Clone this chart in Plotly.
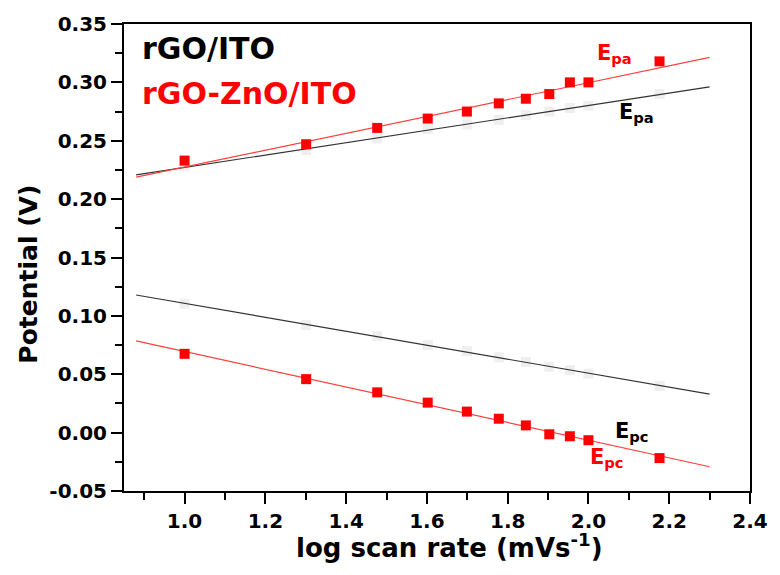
import numpy as np
import plotly.graph_objects as go

# log10 of scan rates 10,20,30,40,50,60,70,80,90,100,150 mV/s
log_rate = [1.000, 1.301, 1.477, 1.602, 1.699, 1.778, 1.845, 1.903, 1.954, 2.000, 2.176]

# rGO-ZnO/ITO peak potentials (V)
zno_epa = [0.233, 0.247, 0.261, 0.269, 0.275, 0.282, 0.286, 0.290, 0.300, 0.300, 0.318]
zno_epc = [0.0675, 0.0458, 0.0345, 0.0257, 0.0180, 0.0119, 0.0062, -0.0014, -0.0031, -0.0065, -0.0218]

# rGO/ITO peak potentials (V)
rgo_epa = [0.228, 0.242, 0.252, 0.260, 0.264, 0.268, 0.272, 0.275, 0.278, 0.280, 0.290]
rgo_epc = [0.1104, 0.0921, 0.0826, 0.0750, 0.0700, 0.0645, 0.0605, 0.0565, 0.0535, 0.0505, 0.0400]

# span over which the linear fits are drawn
fit_range = [0.88, 2.30]

x_ticks = [1.0, 1.2, 1.4, 1.6, 1.8, 2.0, 2.2, 2.4]
x_ticklabels = ["1.0", "1.2", "1.4", "1.6", "1.8", "2.0", "2.2", "2.4"]
y_ticks = [-0.05, 0.0, 0.05, 0.10, 0.15, 0.20, 0.25, 0.30, 0.35]
y_ticklabels = ["-0.05", "0.00", "0.05", "0.10", "0.15", "0.20", "0.25", "0.30", "0.35"]

FONT = "DejaVu Sans"
RED = "#ff0000"

fig = go.Figure()


def fit_line(xs, ys):
    k, b = np.polyfit(xs, ys, 1)
    fx = np.array(fit_range)
    return fx, k * fx + b


# rGO/ITO: pale markers with dark fit lines
for ys in (rgo_epa, rgo_epc):
    fig.add_trace(go.Scatter(x=log_rate, y=ys, mode="markers",
                             marker=dict(symbol="square", size=10, color="#efefef"),
                             showlegend=False, hoverinfo="skip"))
    fx, fy = fit_line(log_rate, ys)
    fig.add_trace(go.Scatter(x=fx, y=fy, mode="lines",
                             line=dict(color="#333333", width=1.2), showlegend=False))

# rGO-ZnO/ITO: red markers with red fit lines
for ys in (zno_epa, zno_epc):
    fx, fy = fit_line(log_rate, ys)
    fig.add_trace(go.Scatter(x=fx, y=fy, mode="lines",
                             line=dict(color="#ff4040", width=1.2), showlegend=False))
    fig.add_trace(go.Scatter(x=log_rate, y=ys, mode="markers",
                             marker=dict(symbol="square", size=10, color=RED),
                             showlegend=False))

labels = [
    (2.015, 0.3246, "E<sub>pa</sub>", RED),
    (2.070, 0.2740, "E<sub>pa</sub>", "black"),
    (2.060, 0.0005, "E<sub>pc</sub>", "black"),
    (2.000, -0.0220, "E<sub>pc</sub>", RED),
]
for lx, ly, txt, col in labels:
    fig.add_annotation(x=lx, y=ly, text=txt, showarrow=False, xanchor="left", yanchor="middle",
                       font=dict(family=FONT, size=21, color=col, weight="bold"))

fig.add_annotation(xref="paper", yref="paper", x=0.026, y=0.947, text="rGO/ITO", showarrow=False,
                   xanchor="left", yanchor="middle",
                   font=dict(family=FONT, size=30, color="black", weight="bold"))
fig.add_annotation(xref="paper", yref="paper", x=0.026, y=0.852, text="rGO-ZnO/ITO", showarrow=False,
                   xanchor="left", yanchor="middle",
                   font=dict(family=FONT, size=30, color=RED, weight="bold"))

# axis titles placed as paper-anchored text
fig.add_annotation(xref="paper", yref="paper", x=0.5195, y=-0.118, yanchor="middle",
                   text="log scan rate (mVs<sup>-1</sup>)", showarrow=False,
                   font=dict(family=FONT, size=26, color="black", weight="bold"))
fig.add_annotation(xref="paper", yref="paper", x=-0.152, y=0.465, textangle=-90,
                   xanchor="center", yanchor="middle",
                   text="Potential (V)", showarrow=False,
                   font=dict(family=FONT, size=25, color="black", weight="bold"))

axis_common = dict(showgrid=False, zeroline=False, showline=True, linecolor="black", linewidth=2,
                   mirror=True, ticks="outside", ticklen=11, tickwidth=2, tickcolor="black",
                   tickfont=dict(family=FONT, size=20, color="black", weight="bold"))

fig.update_xaxes(range=[0.85, 2.4], tickvals=x_ticks, ticktext=x_ticklabels,
                 minor=dict(dtick=0.1, tick0=0.9, ticks="outside", ticklen=7, tickwidth=2, tickcolor="black"),
                 **axis_common)
fig.update_yaxes(range=[-0.05, 0.35], tickvals=y_ticks, ticktext=y_ticklabels,
                 minor=dict(dtick=0.025, tick0=-0.025, ticks="outside", ticklen=7, tickwidth=2, tickcolor="black"),
                 **axis_common)

fig.update_layout(width=780, height=575, margin=dict(l=124, r=22, t=20, b=84),
                  plot_bgcolor="white", paper_bgcolor="white")

fig.write_html("out.html")
